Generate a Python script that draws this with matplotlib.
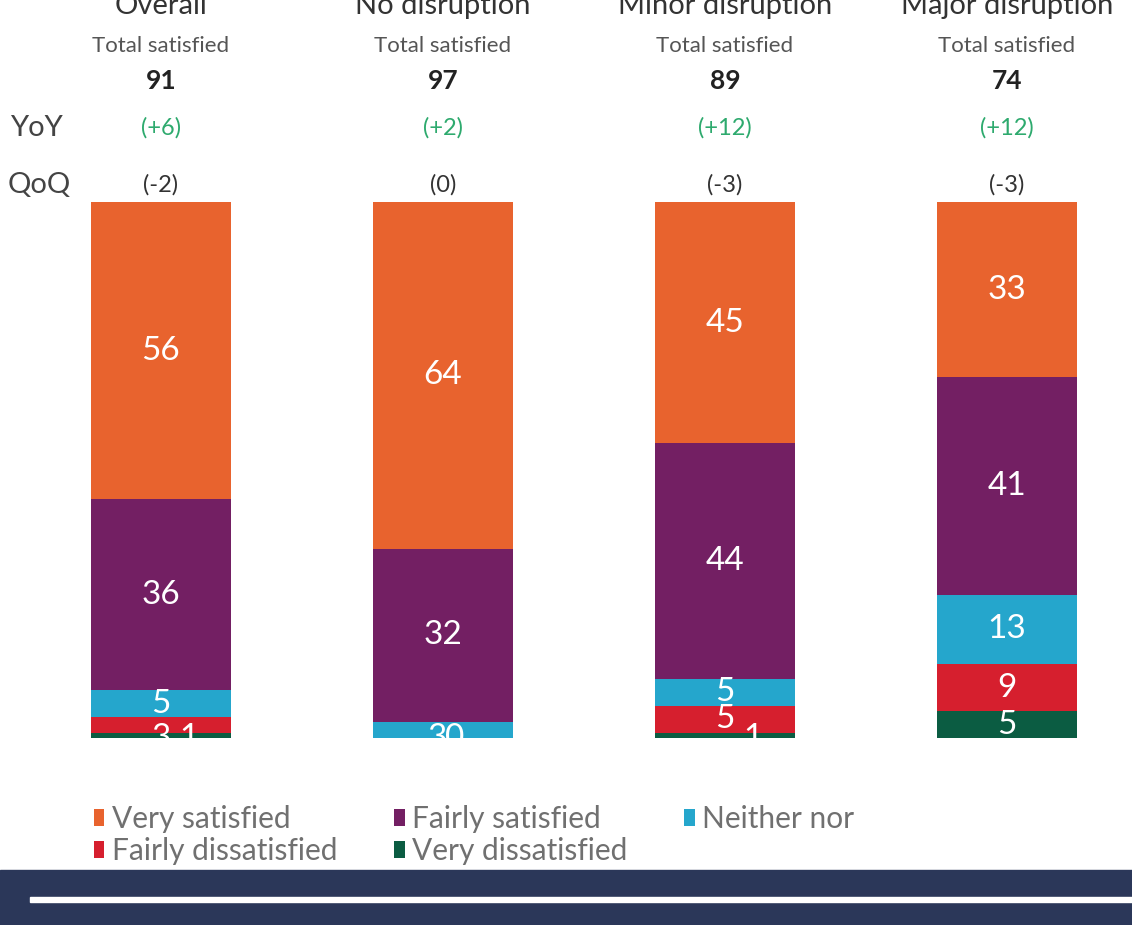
import numpy as np
import matplotlib
matplotlib.use('Agg')
import matplotlib.pyplot as plt
from matplotlib.patches import Rectangle

plt.rcParams['font.family'] = ['Lato', 'DejaVu Sans']

groups = ['Overall', 'No disruption', 'Minor disruption', 'Major disruption']
total_satisfied = ['91', '97', '89', '74']
yoy = ['(+6)', '(+2)', '(+12)', '(+12)']
qoq = ['(-2)', '(0)', '(-3)', '(-3)']

levels = ['Very satisfied', 'Fairly satisfied', 'Neither nor',
          'Fairly dissatisfied', 'Very dissatisfied']
very_sat = [56, 64, 45, 33]
fairly_sat = [36, 32, 44, 41]
neither = [5, 3, 5, 13]
fairly_dis = [3, 0, 5, 9]
very_dis = [1, 0, 1, 5]

colors = ['#E8632E', '#731F63', '#25A6CC', '#D61F2E', '#0B5C42']

series = [very_sat, fairly_sat, neither, fairly_dis, very_dis]
data = np.array(series, dtype=float)
share = data / data.sum(axis=0) * 100  # 100% stacked

fig = plt.figure(figsize=(11.32, 9.25), dpi=100)
ax = fig.add_axes([0, 187 / 925, 1, 536 / 925])
x = np.arange(len(groups))
width = 0.493

# stack from the top: very satisfied on top
bars = []
top = np.full(len(groups), 100.0)
for i in range(len(series)):
    bottom = top - share[i]
    b = ax.bar(x, share[i], width, bottom=bottom, color=colors[i], label=levels[i])
    bars.append(b)
    for j in range(len(groups)):
        val = series[i][j]
        if j == 1 and i == 3:
            continue  # only "3 0" is shown on the no-disruption bar
        if share[i][j] >= 4:
            ax.text(x[j], bottom[j] + share[i][j] / 2, str(val), ha='center', va='center',
                    color='white', fontsize=24)
        else:
            dx = 0.1 if i == 4 else 0.0
            if j == 1:
                dx = 0.04 if i == 4 else -0.02
            ax.text(x[j] + dx, 0.0, str(val), ha='center', va='center',
                    color='white', fontsize=24, clip_on=True)
    top = bottom

ax.set_xlim(-161 / 282, (1132 - 161) / 282)
ax.set_ylim(0, 100)
ax.axis('off')

def ypx(p):
    return (738 - p) / 5.36

for j in range(len(groups)):
    ax.text(x[j], ypx(14), groups[j], ha='center', va='baseline', fontsize=21,
            color='#333333', clip_on=False)
    ax.text(x[j], ypx(46), 'Total satisfied', ha='center', va='center', fontsize=16,
            color='#555555', clip_on=False)
    ax.text(x[j], ypx(81), total_satisfied[j], ha='center', va='center', fontsize=19,
            fontweight='bold', color='#222222', clip_on=False)
    ax.text(x[j], ypx(128), yoy[j], ha='center', va='center', fontsize=17,
            color='#2EAA6E', clip_on=False)
    ax.text(x[j], ypx(185), qoq[j], ha='center', va='center', fontsize=17,
            color='#333333', clip_on=False)

fig.text(10 / 1132, 1 - 128 / 925, 'YoY', ha='left', va='center', fontsize=21, color='#444444')
fig.text(8 / 1132, 1 - 185 / 925, 'QoQ', ha='left', va='center', fontsize=21, color='#444444')

# legend, row-major order
order = [0, 3, 1, 4, 2]
leg = fig.legend([bars[k] for k in order], [levels[k] for k in order], ncol=3,
                 loc='upper left', bbox_to_anchor=(94 / 1132, 1 - 805 / 925),
                 frameon=False, fontsize=21.5, handlelength=0.35, handleheight=0.5,
                 handletextpad=0.25, columnspacing=1.9, labelspacing=0.15,
                 borderpad=0, borderaxespad=0)
for t in leg.get_texts():
    t.set_color('#707070')

# bottom navy band
fig.patches.append(Rectangle((0, 0), 1, 55 / 925, transform=fig.transFigure,
                             color='#2B3759', zorder=0))
fig.patches.append(Rectangle((30 / 1132, 23 / 925), 1, 5 / 925, transform=fig.transFigure,
                             color='white', zorder=1))

fig.savefig('out.png', dpi=100)
